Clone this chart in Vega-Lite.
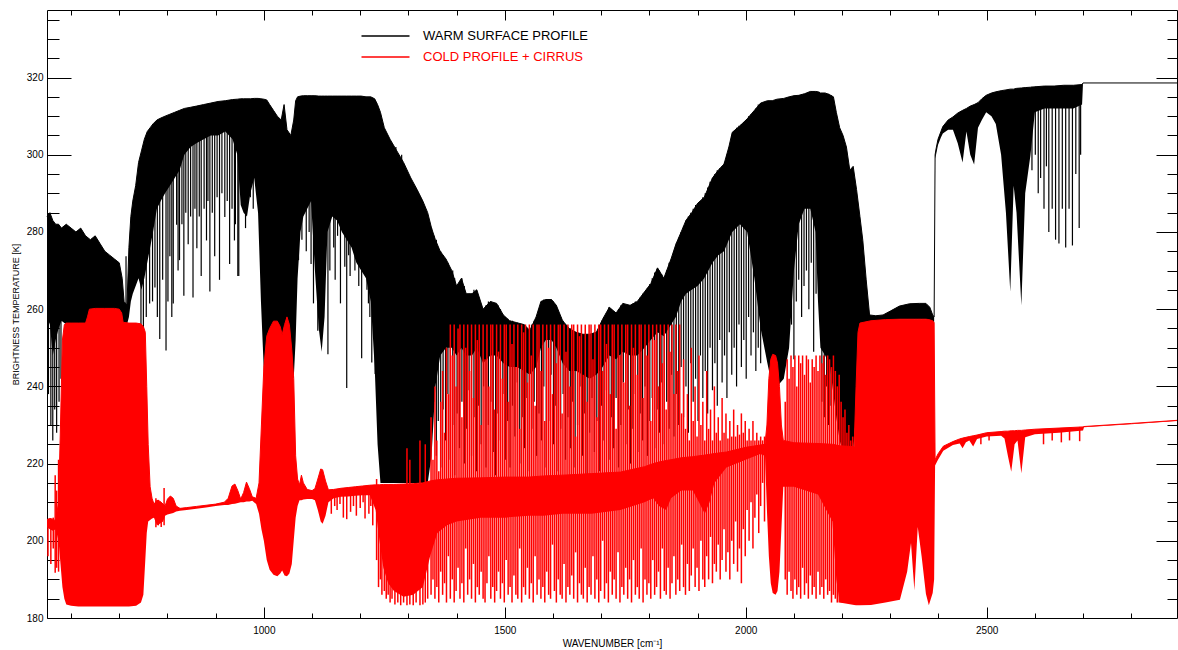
{
"$schema":"https://vega.github.io/schema/vega-lite/v6.json",
"width":1130,"height":608,
"autosize":{"type":"none"},
"padding":{"left":47,"top":10,"right":1,"bottom":32},
"background":"white",
"config":{"view":{"stroke":null},"axis":{"grid":false,"domainColor":"#000","tickColor":"#000","labelColor":"#000","titleColor":"#000","labelFont":"Liberation Sans","titleFont":"Liberation Sans","titleFontWeight":"normal","labelFontSize":10,"domainWidth":1,"tickWidth":1,"labelOverlap":false,"labelFlush":false}},
"datasets":{
"we":[{"x":550,"hi":284,"lo":258},{"x":556,"hi":285,"lo":256},{"x":562,"hi":283,"lo":248},{"x":568,"hi":282,"lo":252},{"x":574,"hi":282,"lo":255},{"x":580,"hi":281,"lo":257},{"x":590,"hi":282,"lo":256},{"x":600,"hi":281,"lo":256},{"x":610,"hi":280,"lo":256},{"x":620,"hi":281,"lo":256},{"x":630,"hi":279,"lo":256},{"x":640,"hi":278,"lo":256},{"x":650,"hi":279,"lo":256},{"x":660,"hi":277,"lo":256},{"x":670,"hi":275,"lo":256},{"x":680,"hi":274,"lo":256},{"x":690,"hi":273,"lo":256},{"x":700,"hi":272,"lo":256},{"x":706,"hi":268,"lo":256},{"x":710,"hi":262,"lo":256},{"x":716,"hi":261,"lo":256},{"x":720,"hi":276,"lo":258},{"x":724,"hi":284,"lo":262},{"x":728,"hi":288,"lo":264},{"x":734,"hi":292,"lo":266},{"x":740,"hi":298,"lo":268},{"x":746,"hi":301,"lo":265},{"x":752,"hi":304,"lo":268},{"x":758,"hi":306,"lo":272},{"x":764,"hi":307,"lo":276},{"x":770,"hi":308,"lo":280},{"x":778,"hi":309,"lo":286},{"x":786,"hi":309.5,"lo":288},{"x":795,"hi":310,"lo":290},{"x":805,"hi":310.5,"lo":292},{"x":815,"hi":311,"lo":294},{"x":825,"hi":311.5,"lo":296},{"x":835,"hi":312,"lo":300},{"x":848,"hi":312.3,"lo":302},{"x":860,"hi":312.6,"lo":303},{"x":875,"hi":313,"lo":304},{"x":890,"hi":313.4,"lo":305},{"x":905,"hi":313.8,"lo":305},{"x":920,"hi":314,"lo":306},{"x":935,"hi":314.3,"lo":304},{"x":945,"hi":314.4,"lo":300},{"x":952,"hi":314.5,"lo":287},{"x":958,"hi":314.5,"lo":285},{"x":965,"hi":314.5,"lo":284},{"x":972,"hi":314.5,"lo":290},{"x":980,"hi":314.6,"lo":294},{"x":988,"hi":314.6,"lo":285},{"x":994,"hi":314.5,"lo":262},{"x":1000,"hi":314.4,"lo":244},{"x":1006,"hi":314.2,"lo":241},{"x":1012,"hi":313,"lo":242},{"x":1020,"hi":311.5,"lo":244},{"x":1028,"hi":310,"lo":245},{"x":1036,"hi":309,"lo":246},{"x":1042,"hi":313,"lo":247},{"x":1048,"hi":306.5,"lo":247},{"x":1056,"hi":305,"lo":244},{"x":1062,"hi":309,"lo":242},{"x":1066,"hi":314,"lo":252},{"x":1070,"hi":315,"lo":268},{"x":1076,"hi":315.2,"lo":280},{"x":1082,"hi":315.3,"lo":284},{"x":1090,"hi":315.3,"lo":286},{"x":1098,"hi":315.3,"lo":288},{"x":1106,"hi":315.3,"lo":270},{"x":1114,"hi":315.2,"lo":255},{"x":1120,"hi":315.2,"lo":249},{"x":1126,"hi":315.2,"lo":258},{"x":1132,"hi":315.2,"lo":280},{"x":1142,"hi":315.2,"lo":284},{"x":1152,"hi":315.2,"lo":283},{"x":1162,"hi":315.2,"lo":280},{"x":1172,"hi":315.2,"lo":278},{"x":1182,"hi":315.2,"lo":276},{"x":1192,"hi":315.2,"lo":272},{"x":1202,"hi":315.2,"lo":270},{"x":1212,"hi":315,"lo":268},{"x":1222,"hi":315,"lo":262},{"x":1230,"hi":314.5,"lo":245},{"x":1236,"hi":313,"lo":225},{"x":1242,"hi":311,"lo":215},{"x":1250,"hi":307,"lo":215},{"x":1262,"hi":304,"lo":215},{"x":1276,"hi":301,"lo":215},{"x":1290,"hi":298,"lo":215},{"x":1305,"hi":294,"lo":215},{"x":1318,"hi":291,"lo":215},{"x":1330,"hi":288,"lo":215},{"x":1340,"hi":285,"lo":215},{"x":1348,"hi":281,"lo":222},{"x":1356,"hi":278,"lo":240},{"x":1366,"hi":275,"lo":248},{"x":1378,"hi":273,"lo":250},{"x":1390,"hi":270,"lo":250},{"x":1400,"hi":266,"lo":248},{"x":1410,"hi":268,"lo":250},{"x":1420,"hi":264,"lo":248},{"x":1432,"hi":264,"lo":248},{"x":1442,"hi":265,"lo":250},{"x":1455,"hi":260,"lo":246},{"x":1470,"hi":262,"lo":248},{"x":1483,"hi":261.5,"lo":248},{"x":1497,"hi":258.5,"lo":246},{"x":1510,"hi":257,"lo":245},{"x":1525,"hi":256.5,"lo":245},{"x":1540,"hi":256,"lo":244},{"x":1552,"hi":254.5,"lo":243},{"x":1565,"hi":258,"lo":245},{"x":1575,"hi":262,"lo":250},{"x":1585,"hi":262.5,"lo":252},{"x":1597,"hi":262.5,"lo":252},{"x":1607,"hi":261,"lo":250},{"x":1620,"hi":257,"lo":246},{"x":1634,"hi":255,"lo":244},{"x":1648,"hi":254,"lo":244},{"x":1662,"hi":253.5,"lo":243},{"x":1676,"hi":253.5,"lo":242},{"x":1690,"hi":254,"lo":243},{"x":1703,"hi":257.4,"lo":245},{"x":1717,"hi":260.5,"lo":248},{"x":1731,"hi":259,"lo":247},{"x":1745,"hi":261.5,"lo":249},{"x":1760,"hi":261,"lo":248},{"x":1775,"hi":262,"lo":248},{"x":1790,"hi":264.5,"lo":250},{"x":1803,"hi":266.6,"lo":252},{"x":1817,"hi":270.7,"lo":254},{"x":1830,"hi":268,"lo":253},{"x":1845,"hi":273,"lo":256},{"x":1855,"hi":276.8,"lo":258},{"x":1866,"hi":280,"lo":262},{"x":1876,"hi":283,"lo":264},{"x":1888,"hi":285,"lo":265},{"x":1900,"hi":287.4,"lo":266},{"x":1914,"hi":289,"lo":268},{"x":1931,"hi":294,"lo":272},{"x":1943,"hi":296,"lo":274},{"x":1955,"hi":297.6,"lo":275},{"x":1965,"hi":302,"lo":278},{"x":1972,"hi":305.8,"lo":280},{"x":1988,"hi":307.5,"lo":282},{"x":2003,"hi":309.3,"lo":280},{"x":2018,"hi":311.5,"lo":268},{"x":2031,"hi":313.4,"lo":255},{"x":2045,"hi":314,"lo":246},{"x":2055,"hi":314,"lo":240},{"x":2065,"hi":314.4,"lo":240},{"x":2079,"hi":314.6,"lo":242},{"x":2090,"hi":315,"lo":250},{"x":2100,"hi":315.3,"lo":270},{"x":2110,"hi":315.4,"lo":282},{"x":2122,"hi":315.8,"lo":286},{"x":2134,"hi":316.4,"lo":286},{"x":2145,"hi":316.4,"lo":280},{"x":2150,"hi":316.3,"lo":262},{"x":2155,"hi":316,"lo":250},{"x":2165,"hi":316,"lo":248},{"x":2175,"hi":315.5,"lo":245},{"x":2182,"hi":315,"lo":238},{"x":2188,"hi":311,"lo":232},{"x":2195,"hi":307,"lo":226},{"x":2202,"hi":305,"lo":223},{"x":2209,"hi":302,"lo":222},{"x":2216,"hi":296,"lo":221.5},{"x":2223,"hi":297,"lo":223},{"x":2230,"hi":291,"lo":235},{"x":2237,"hi":284,"lo":248},{"x":2243,"hi":277.8,"lo":252},{"x":2250,"hi":267.6,"lo":256},{"x":2257,"hi":258.5,"lo":256.5},{"x":2270,"hi":258.3,"lo":256.6},{"x":2285,"hi":258.5,"lo":257},{"x":2300,"hi":259.5,"lo":257.2},{"x":2319,"hi":260.8,"lo":257.4},{"x":2340,"hi":261.4,"lo":257.4},{"x":2360,"hi":261.5,"lo":257.4},{"x":2374,"hi":261.5,"lo":257.4},{"x":2382,"hi":260.5,"lo":257.2},{"x":2388,"hi":258.5,"lo":256.6},{"x":2391,"hi":258,"lo":256.5},{"x":2393,"hi":300,"lo":299},{"x":2395,"hi":301.5,"lo":300},{"x":2399,"hi":304,"lo":302.5},{"x":2405,"hi":306,"lo":304.5},{"x":2409,"hi":307.3,"lo":305.5},{"x":2420,"hi":309,"lo":306.5},{"x":2430,"hi":309.8,"lo":306.5},{"x":2440,"hi":310.8,"lo":303},{"x":2450,"hi":311.5,"lo":298},{"x":2458,"hi":312,"lo":306},{"x":2466,"hi":312.6,"lo":300},{"x":2474,"hi":313,"lo":297.5},{"x":2482,"hi":313.5,"lo":307},{"x":2490,"hi":314.5,"lo":309},{"x":2499,"hi":315.4,"lo":311},{"x":2510,"hi":316,"lo":310},{"x":2519,"hi":316.3,"lo":308},{"x":2530,"hi":316.6,"lo":300},{"x":2540,"hi":316.8,"lo":285},{"x":2549,"hi":317,"lo":264.5},{"x":2556,"hi":317,"lo":292},{"x":2562,"hi":317.2,"lo":285},{"x":2572,"hi":317.3,"lo":261},{"x":2580,"hi":317.4,"lo":290},{"x":2591,"hi":317.5,"lo":300},{"x":2600,"hi":317.6,"lo":311},{"x":2620,"hi":317.8,"lo":312},{"x":2640,"hi":317.8,"lo":312},{"x":2660,"hi":318,"lo":312},{"x":2680,"hi":318,"lo":312},{"x":2698,"hi":318.2,"lo":313},{"x":2700,"hi":318.6,"lo":318.6},{"x":2895,"hi":318.6,"lo":318.6}],
"ws":[{"x":553,"t":272,"b":238},{"x":558,"t":270,"b":230},{"x":562,"t":262,"b":226},{"x":566,"t":268,"b":234},{"x":570,"t":265,"b":228},{"x":575,"t":266,"b":236},{"x":579,"t":262,"b":242},{"x":714,"t":273.7,"b":258},{"x":745,"t":290,"b":251},{"x":750,"t":295,"b":252},{"x":756,"t":300,"b":258},{"x":763,"t":300,"b":261.5},{"x":769,"t":303,"b":262},{"x":774,"t":305,"b":265.6},{"x":779,"t":305,"b":258},{"x":784,"t":305,"b":252.3},{"x":790,"t":306,"b":267.6},{"x":797,"t":306,"b":249.3},{"x":801,"t":306,"b":262},{"x":805,"t":307,"b":273.7},{"x":809,"t":307,"b":258},{"x":812,"t":307,"b":261.5},{"x":819,"t":308,"b":281.9},{"x":822,"t":308,"b":270},{"x":825,"t":308,"b":272.7},{"x":830,"t":309,"b":282},{"x":834,"t":309,"b":263.5},{"x":838,"t":309,"b":285},{"x":843,"t":309,"b":276.8},{"x":848,"t":310,"b":284},{"x":853,"t":310,"b":263},{"x":857,"t":310,"b":286},{"x":861,"t":310,"b":275.8},{"x":866,"t":311,"b":284},{"x":870,"t":311,"b":268.6},{"x":876,"t":311,"b":286},{"x":881,"t":311,"b":277.8},{"x":884,"t":311,"b":288},{"x":888,"t":312,"b":264.6},{"x":893,"t":312,"b":285},{"x":898,"t":312,"b":273.7},{"x":903,"t":312,"b":289},{"x":908,"t":312,"b":267.6},{"x":913,"t":312,"b":290},{"x":919,"t":312,"b":283.9},{"x":924,"t":313,"b":288},{"x":929,"t":313,"b":271.7},{"x":934,"t":313,"b":286},{"x":939,"t":313,"b":277.8},{"x":941,"t":313,"b":282},{"x":946,"t":313,"b":268.6},{"x":948,"t":313,"b":268.6},{"x":962,"t":313,"b":281},{"x":972,"t":313,"b":289},{"x":978,"t":313,"b":286},{"x":1072,"t":314,"b":272.7},{"x":1079,"t":314,"b":278},{"x":1083,"t":314,"b":286},{"x":1088,"t":314,"b":275},{"x":1094,"t":314,"b":280},{"x":1098,"t":314,"b":271.7},{"x":1103,"t":314,"b":261.5},{"x":1112,"t":314,"b":254.4},{"x":1133,"t":314,"b":248.3},{"x":1137,"t":314,"b":270},{"x":1141,"t":314,"b":288},{"x":1145,"t":314,"b":276},{"x":1148,"t":314,"b":267.6},{"x":1153,"t":314,"b":279},{"x":1159,"t":314,"b":261.5},{"x":1164,"t":314,"b":281.9},{"x":1168,"t":314,"b":271},{"x":1172,"t":314,"b":239.6},{"x":1176,"t":314,"b":274},{"x":1179,"t":314,"b":268.6},{"x":1185,"t":314,"b":283},{"x":1189,"t":314,"b":270},{"x":1193,"t":314,"b":277.8},{"x":1197,"t":314,"b":266},{"x":1203,"t":314,"b":247.3},{"x":1207,"t":314,"b":272},{"x":1210,"t":314,"b":279},{"x":1214,"t":314,"b":265},{"x":1217,"t":314,"b":261.5},{"x":1220,"t":314,"b":258},{"x":1224,"t":314,"b":246.2},{"x":1228,"t":314,"b":255},{"x":1231,"t":314,"b":243.2},{"x":1274,"t":302,"b":290},{"x":1286,"t":300,"b":288},{"x":1348,"t":281,"b":228},{"x":1353,"t":279,"b":236},{"x":1358,"t":278,"b":222},{"x":1362,"t":276,"b":231},{"x":1367,"t":275,"b":219},{"x":1372,"t":274,"b":234},{"x":1377,"t":273,"b":226},{"x":1382,"t":272,"b":238},{"x":1387,"t":270,"b":221},{"x":1392,"t":270,"b":230},{"x":1396,"t":268,"b":217},{"x":1401,"t":266,"b":233},{"x":1406,"t":267,"b":224},{"x":1411,"t":268,"b":236},{"x":1416,"t":266,"b":220},{"x":1421,"t":264,"b":229},{"x":1426,"t":264,"b":239},{"x":1431,"t":264,"b":222},{"x":1436,"t":265,"b":232},{"x":1441,"t":265,"b":218},{"x":1446,"t":263,"b":235},{"x":1451,"t":261,"b":225},{"x":1456,"t":260,"b":240},{"x":1461,"t":261,"b":219},{"x":1466,"t":262,"b":230},{"x":1471,"t":262,"b":236},{"x":1476,"t":261,"b":223},{"x":1481,"t":261.5,"b":217},{"x":1486,"t":261,"b":233},{"x":1491,"t":260,"b":226},{"x":1496,"t":258.5,"b":238},{"x":1501,"t":258,"b":221},{"x":1506,"t":257.5,"b":231},{"x":1511,"t":257,"b":219},{"x":1516,"t":257,"b":235},{"x":1521,"t":256.5,"b":227},{"x":1526,"t":256.5,"b":241},{"x":1531,"t":256,"b":220},{"x":1536,"t":256,"b":232},{"x":1541,"t":256,"b":224},{"x":1546,"t":255,"b":237},{"x":1551,"t":254.5,"b":218},{"x":1556,"t":256,"b":229},{"x":1561,"t":257,"b":236},{"x":1566,"t":258,"b":222},{"x":1571,"t":260,"b":233},{"x":1576,"t":262,"b":226},{"x":1581,"t":262.5,"b":240},{"x":1586,"t":262.5,"b":219},{"x":1591,"t":262.5,"b":231},{"x":1596,"t":262.5,"b":243},{"x":1601,"t":262,"b":225},{"x":1606,"t":261,"b":235},{"x":1611,"t":259,"b":218},{"x":1616,"t":258,"b":229},{"x":1621,"t":257,"b":238},{"x":1626,"t":256,"b":221},{"x":1631,"t":255,"b":232},{"x":1636,"t":255,"b":224},{"x":1641,"t":254.5,"b":236},{"x":1646,"t":254,"b":219},{"x":1651,"t":254,"b":230},{"x":1656,"t":253.5,"b":240},{"x":1661,"t":253.5,"b":222},{"x":1666,"t":253.5,"b":233},{"x":1671,"t":253.5,"b":217},{"x":1676,"t":253.5,"b":228},{"x":1681,"t":253.5,"b":237},{"x":1686,"t":254,"b":223},{"x":1691,"t":254,"b":231},{"x":1696,"t":255.5,"b":218},{"x":1701,"t":257,"b":235},{"x":1706,"t":258,"b":226},{"x":1711,"t":259,"b":239},{"x":1716,"t":260.5,"b":221},{"x":1721,"t":260,"b":232},{"x":1726,"t":259.5,"b":224},{"x":1731,"t":259,"b":237},{"x":1736,"t":260,"b":219},{"x":1741,"t":261,"b":230},{"x":1746,"t":261.5,"b":241},{"x":1751,"t":261,"b":225},{"x":1756,"t":261,"b":234},{"x":1761,"t":261,"b":220},{"x":1766,"t":261.5,"b":229},{"x":1771,"t":262,"b":238},{"x":1776,"t":262,"b":223},{"x":1781,"t":263,"b":233},{"x":1786,"t":264,"b":226},{"x":1791,"t":264.5,"b":240},{"x":1796,"t":265.5,"b":222},{"x":1801,"t":266.5,"b":231},{"x":1806,"t":268,"b":237},{"x":1811,"t":269.5,"b":224},{"x":1816,"t":270.5,"b":234},{"x":1821,"t":270,"b":228},{"x":1826,"t":269,"b":241},{"x":1831,"t":268,"b":225},{"x":1836,"t":270,"b":236},{"x":1841,"t":272,"b":229},{"x":1846,"t":273,"b":243},{"x":1851,"t":275,"b":227},{"x":1856,"t":277,"b":238},{"x":1861,"t":278.5,"b":230},{"x":1866,"t":280,"b":245},{"x":1871,"t":281.5,"b":232},{"x":1876,"t":283,"b":240},{"x":1881,"t":284,"b":228},{"x":1886,"t":285,"b":246},{"x":1891,"t":286,"b":236},{"x":1896,"t":287,"b":242},{"x":1901,"t":287.5,"b":231},{"x":1906,"t":288,"b":248},{"x":1911,"t":289,"b":237},{"x":1916,"t":290,"b":244},{"x":1921,"t":291.5,"b":233},{"x":1926,"t":293,"b":250},{"x":1931,"t":294,"b":239},{"x":1936,"t":295,"b":246},{"x":1941,"t":296,"b":235},{"x":1946,"t":296.5,"b":252},{"x":1951,"t":297,"b":241},{"x":1956,"t":298,"b":248},{"x":1961,"t":300,"b":237},{"x":1966,"t":302,"b":254},{"x":1971,"t":305,"b":243},{"x":1976,"t":306,"b":250},{"x":1981,"t":307,"b":240},{"x":1986,"t":307.5,"b":256},{"x":1991,"t":308,"b":245},{"x":1996,"t":308.5,"b":252},{"x":2001,"t":309,"b":242},{"x":2006,"t":310,"b":258},{"x":2011,"t":310.5,"b":248},{"x":2016,"t":311,"b":254},{"x":2021,"t":312,"b":244},{"x":2026,"t":313,"b":250},{"x":2031,"t":313.4,"b":246},{"x":2095,"t":315,"b":256},{"x":2100,"t":315.3,"b":247},{"x":2105,"t":315.3,"b":262},{"x":2110,"t":315.4,"b":267.6},{"x":2116,"t":315.6,"b":258},{"x":2121,"t":315.8,"b":266},{"x":2126,"t":316,"b":270},{"x":2131,"t":316.2,"b":260},{"x":2136,"t":316.4,"b":272},{"x":2141,"t":316.4,"b":249},{"x":2146,"t":316.4,"b":264},{"x":2152,"t":316.3,"b":270},{"x":2158,"t":316,"b":236},{"x":2163,"t":316,"b":232},{"x":2168,"t":316,"b":240},{"x":2172,"t":315.8,"b":230},{"x":2177,"t":315.5,"b":235},{"x":2594,"t":317.6,"b":296},{"x":2601,"t":317.6,"b":300},{"x":2607,"t":317.6,"b":290},{"x":2612,"t":317.6,"b":294},{"x":2619,"t":317.6,"b":286},{"x":2624,"t":317.6,"b":297},{"x":2629,"t":317.6,"b":280},{"x":2636,"t":317.6,"b":286},{"x":2643,"t":317.6,"b":278},{"x":2650,"t":317.6,"b":277},{"x":2657,"t":317.6,"b":286},{"x":2664,"t":317.6,"b":276},{"x":2671,"t":317.6,"b":286},{"x":2678,"t":317.6,"b":276.5},{"x":2685,"t":317.6,"b":295},{"x":2692,"t":317.6,"b":281},{"x":2695,"t":317.6,"b":300}],
"ce":[{"x":550,"hi":205.5,"lo":203.5},{"x":556,"hi":205.8,"lo":203},{"x":562,"hi":205.6,"lo":202.6},{"x":568,"hi":205.2,"lo":203},{"x":574,"hi":210,"lo":200},{"x":578,"hi":230,"lo":194},{"x":582,"hi":252,"lo":188},{"x":586,"hi":256,"lo":185},{"x":590,"hi":256.4,"lo":183.5},{"x":600,"hi":256.4,"lo":183.2},{"x":615,"hi":256.4,"lo":183},{"x":630,"hi":256.4,"lo":183},{"x":634,"hi":258,"lo":183},{"x":638,"hi":260,"lo":183},{"x":650,"hi":260.2,"lo":183},{"x":670,"hi":260.2,"lo":183},{"x":690,"hi":260.2,"lo":183},{"x":700,"hi":260,"lo":183},{"x":705,"hi":259,"lo":183},{"x":708,"hi":256.6,"lo":183},{"x":720,"hi":256.4,"lo":183},{"x":735,"hi":256.4,"lo":183.2},{"x":745,"hi":256.2,"lo":184},{"x":750,"hi":255.5,"lo":186},{"x":754,"hi":254,"lo":195},{"x":757,"hi":240,"lo":202},{"x":760,"hi":225,"lo":205},{"x":764,"hi":214,"lo":205.4},{"x":768,"hi":211,"lo":205.8},{"x":772,"hi":209.5,"lo":206},{"x":778,"hi":210.5,"lo":204},{"x":785,"hi":210.2,"lo":204.5},{"x":791,"hi":209.5,"lo":205},{"x":795,"hi":209,"lo":206.5},{"x":800,"hi":210.8,"lo":206.8},{"x":806,"hi":211.6,"lo":207},{"x":812,"hi":211,"lo":207.2},{"x":818,"hi":209,"lo":207.6},{"x":826,"hi":208.4,"lo":207.8},{"x":840,"hi":208.6,"lo":208},{"x":860,"hi":208.9,"lo":208.3},{"x":880,"hi":209.2,"lo":208.6},{"x":900,"hi":209.5,"lo":209},{"x":918,"hi":210,"lo":209.3},{"x":926,"hi":211,"lo":209.3},{"x":934,"hi":214.2,"lo":209.5},{"x":940,"hi":214.7,"lo":209.6},{"x":946,"hi":213,"lo":209.8},{"x":952,"hi":210.8,"lo":210},{"x":958,"hi":212.5,"lo":210},{"x":964,"hi":215.2,"lo":210.2},{"x":970,"hi":213.5,"lo":210.2},{"x":976,"hi":211.4,"lo":210.4},{"x":984,"hi":211,"lo":209.5},{"x":990,"hi":215,"lo":207},{"x":995,"hi":230,"lo":203},{"x":1000,"hi":245,"lo":200},{"x":1006,"hi":253,"lo":195},{"x":1012,"hi":255,"lo":192.5},{"x":1020,"hi":256.9,"lo":191.2},{"x":1028,"hi":256.9,"lo":190.8},{"x":1034,"hi":255.5,"lo":191.5},{"x":1038,"hi":253.4,"lo":192.3},{"x":1043,"hi":256,"lo":191},{"x":1048,"hi":258,"lo":190.8},{"x":1053,"hi":256,"lo":191.5},{"x":1058,"hi":249.5,"lo":194},{"x":1062,"hi":242,"lo":200},{"x":1066,"hi":222,"lo":206},{"x":1070,"hi":216,"lo":209},{"x":1074,"hi":214.5,"lo":210.5},{"x":1078,"hi":217,"lo":210.5},{"x":1082,"hi":215,"lo":210.7},{"x":1090,"hi":213.3,"lo":210.8},{"x":1100,"hi":213,"lo":210.8},{"x":1106,"hi":213.5,"lo":210.5},{"x":1112,"hi":216,"lo":208},{"x":1118,"hi":218.6,"lo":205},{"x":1122,"hi":218.4,"lo":204.4},{"x":1128,"hi":215.5,"lo":206.5},{"x":1134,"hi":213.2,"lo":210},{"x":1145,"hi":213.3,"lo":211},{"x":1160,"hi":213.6,"lo":211.4},{"x":1175,"hi":213.8,"lo":211.5},{"x":1190,"hi":214,"lo":211.7},{"x":1205,"hi":214.2,"lo":211.8},{"x":1220,"hi":214.4,"lo":211.8},{"x":1232,"hi":214.5,"lo":208},{"x":1240,"hi":214.5,"lo":200},{"x":1248,"hi":214.6,"lo":193},{"x":1258,"hi":214.6,"lo":189},{"x":1270,"hi":214.6,"lo":187},{"x":1290,"hi":214.7,"lo":185.5},{"x":1310,"hi":214.8,"lo":186},{"x":1330,"hi":215,"lo":188},{"x":1345,"hi":215.5,"lo":196},{"x":1360,"hi":215.8,"lo":202},{"x":1380,"hi":216,"lo":204},{"x":1400,"hi":216.2,"lo":205},{"x":1450,"hi":216.3,"lo":206},{"x":1500,"hi":216.5,"lo":206},{"x":1550,"hi":216.5,"lo":206.5},{"x":1580,"hi":216.8,"lo":206.5},{"x":1620,"hi":217,"lo":207},{"x":1680,"hi":217.4,"lo":207},{"x":1740,"hi":217.8,"lo":208},{"x":1790,"hi":219.2,"lo":210},{"x":1808,"hi":220,"lo":211},{"x":1820,"hi":220.4,"lo":209},{"x":1835,"hi":220.8,"lo":208},{"x":1845,"hi":221,"lo":211},{"x":1866,"hi":221.5,"lo":213},{"x":1890,"hi":221.8,"lo":213},{"x":1903,"hi":222,"lo":210},{"x":1915,"hi":222.2,"lo":207},{"x":1925,"hi":222.4,"lo":210},{"x":1935,"hi":222.6,"lo":215},{"x":1960,"hi":223,"lo":219},{"x":2000,"hi":224.2,"lo":221},{"x":2030,"hi":224.8,"lo":222.5},{"x":2040,"hi":225,"lo":222},{"x":2044,"hi":230,"lo":208},{"x":2048,"hi":242,"lo":196},{"x":2052,"hi":247,"lo":189},{"x":2056,"hi":248.3,"lo":186.5},{"x":2062,"hi":248,"lo":186},{"x":2066,"hi":246,"lo":187},{"x":2070,"hi":240,"lo":192},{"x":2074,"hi":230,"lo":203},{"x":2078,"hi":226,"lo":214},{"x":2100,"hi":225.4,"lo":214},{"x":2150,"hi":225.2,"lo":212},{"x":2180,"hi":225,"lo":205},{"x":2188,"hi":224.8,"lo":190},{"x":2195,"hi":224.6,"lo":184},{"x":2225,"hi":224.4,"lo":183.4},{"x":2229,"hi":240,"lo":183.3},{"x":2233,"hi":254,"lo":183.3},{"x":2237,"hi":256.4,"lo":183.3},{"x":2260,"hi":257,"lo":183.4},{"x":2290,"hi":257.3,"lo":184},{"x":2320,"hi":257.4,"lo":184.7},{"x":2335,"hi":257.4,"lo":192},{"x":2343,"hi":257.4,"lo":199.4},{"x":2350,"hi":257.4,"lo":187.2},{"x":2357,"hi":257.4,"lo":203.6},{"x":2365,"hi":257.4,"lo":196},{"x":2374,"hi":257.4,"lo":186.2},{"x":2380,"hi":257.3,"lo":183.3},{"x":2388,"hi":257,"lo":186.5},{"x":2391,"hi":256.5,"lo":190},{"x":2393,"hi":221,"lo":219.5},{"x":2399,"hi":222.5,"lo":221},{"x":2410,"hi":224.5,"lo":223.3},{"x":2430,"hi":225.7,"lo":224.8},{"x":2444,"hi":226.4,"lo":225.2},{"x":2450,"hi":226.6,"lo":224},{"x":2457,"hi":226.8,"lo":225.5},{"x":2464,"hi":227,"lo":226},{"x":2472,"hi":227.2,"lo":224.4},{"x":2480,"hi":227.4,"lo":226.4},{"x":2500,"hi":228,"lo":227},{"x":2530,"hi":228.3,"lo":227.2},{"x":2537,"hi":228.4,"lo":226.5},{"x":2544,"hi":228.4,"lo":222},{"x":2551,"hi":228.5,"lo":217.9},{"x":2558,"hi":228.5,"lo":225},{"x":2564,"hi":228.6,"lo":226},{"x":2572,"hi":228.6,"lo":217.5},{"x":2580,"hi":228.7,"lo":226.8},{"x":2600,"hi":228.9,"lo":227.6},{"x":2650,"hi":229.2,"lo":228},{"x":2700,"hi":229.5,"lo":228.6},{"x":2702,"hi":229.6,"lo":229.4},{"x":2800,"hi":230.4,"lo":230.2},{"x":2895,"hi":231.2,"lo":231}],
"cs":[{"x":552,"t":205.5,"b":196},{"x":558,"t":205,"b":194},{"x":563,"t":206,"b":198},{"x":567,"t":217,"b":191.7},{"x":570,"t":213,"b":193},{"x":574,"t":221,"b":192},{"x":776,"t":211,"b":203.5},{"x":781,"t":210.6,"b":204},{"x":787,"t":209.5,"b":203.6},{"x":793,"t":213.7,"b":204},{"x":1140,"t":213.2,"b":207},{"x":1147,"t":213.3,"b":209},{"x":1152,"t":213.4,"b":208},{"x":1158,"t":213.5,"b":209.5},{"x":1165,"t":213.6,"b":206},{"x":1172,"t":213.7,"b":205.6},{"x":1180,"t":213.8,"b":207.5},{"x":1186,"t":213.9,"b":209},{"x":1192,"t":214,"b":206.5},{"x":1200,"t":214.1,"b":208.5},{"x":1206,"t":214.2,"b":210},{"x":1210,"t":214.2,"b":205.8},{"x":1218,"t":214.3,"b":207},{"x":1222,"t":214.4,"b":209},{"x":1226,"t":214.4,"b":204},{"x":1234,"t":216,"b":195},{"x":1238,"t":214.5,"b":188},{"x":1242,"t":214.5,"b":190},{"x":1245,"t":214.5,"b":186},{"x":1250,"t":214.6,"b":187},{"x":1254,"t":214.6,"b":185},{"x":1258,"t":214.6,"b":186},{"x":1262,"t":214.6,"b":184},{"x":1266,"t":214.6,"b":185},{"x":1272,"t":214.6,"b":183.5},{"x":1278,"t":214.6,"b":184},{"x":1284,"t":214.7,"b":183.3},{"x":1290,"t":214.7,"b":184},{"x":1297,"t":224,"b":183.3},{"x":1303,"t":221,"b":183.5},{"x":1310,"t":214.8,"b":183.3},{"x":1316,"t":214.9,"b":184},{"x":1324,"t":226,"b":183.3},{"x":1330,"t":215,"b":183.5},{"x":1335,"t":225,"b":184},{"x":1340,"t":215.3,"b":185},{"x":1347,"t":232,"b":186},{"x":1351,"t":221,"b":190},{"x":1355,"t":240,"b":185},{"x":1359,"t":226,"b":188},{"x":1363,"t":218,"b":184},{"x":1367,"t":236,"b":192},{"x":1371,"t":244,"b":186},{"x":1375,"t":228,"b":189},{"x":1379,"t":250,"b":184},{"x":1383,"t":238,"b":196},{"x":1387,"t":256,"b":185},{"x":1391,"t":248,"b":190},{"x":1395,"t":256,"b":184},{"x":1399,"t":240,"b":187},{"x":1403,"t":255,"b":193},{"x":1407,"t":256,"b":185},{"x":1411,"t":232,"b":189},{"x":1415,"t":256,"b":184},{"x":1419,"t":250,"b":198},{"x":1423,"t":256,"b":186},{"x":1427,"t":244,"b":190},{"x":1431,"t":256,"b":185},{"x":1435,"t":237,"b":194},{"x":1439,"t":256,"b":184},{"x":1443,"t":252,"b":188},{"x":1447,"t":256,"b":186},{"x":1451,"t":230,"b":192},{"x":1455,"t":256,"b":185},{"x":1459,"t":247,"b":184},{"x":1463,"t":256,"b":189},{"x":1467,"t":240,"b":196},{"x":1471,"t":256,"b":185},{"x":1475,"t":256,"b":188},{"x":1479,"t":234,"b":184},{"x":1483,"t":256,"b":187},{"x":1487,"t":249,"b":192},{"x":1491,"t":256,"b":185},{"x":1495,"t":242,"b":189},{"x":1499,"t":256,"b":184},{"x":1503,"t":256,"b":195},{"x":1507,"t":236,"b":186},{"x":1511,"t":256,"b":188},{"x":1515,"t":251,"b":184},{"x":1519,"t":256,"b":191},{"x":1523,"t":245,"b":186},{"x":1527,"t":256,"b":185},{"x":1531,"t":229,"b":198},{"x":1535,"t":256,"b":184},{"x":1539,"t":254,"b":188},{"x":1543,"t":256,"b":186},{"x":1547,"t":241,"b":193},{"x":1551,"t":256,"b":185},{"x":1555,"t":248,"b":189},{"x":1559,"t":256,"b":184},{"x":1563,"t":235,"b":196},{"x":1567,"t":256,"b":186},{"x":1571,"t":256,"b":190},{"x":1575,"t":244,"b":185},{"x":1579,"t":256,"b":188},{"x":1583,"t":231,"b":184},{"x":1587,"t":256,"b":192},{"x":1591,"t":250,"b":186},{"x":1595,"t":256,"b":185},{"x":1599,"t":238,"b":199},{"x":1603,"t":256,"b":187},{"x":1607,"t":246,"b":184},{"x":1611,"t":256,"b":190},{"x":1615,"t":256,"b":186},{"x":1619,"t":233,"b":185},{"x":1623,"t":256,"b":194},{"x":1627,"t":249,"b":184},{"x":1631,"t":256,"b":188},{"x":1635,"t":240,"b":186},{"x":1639,"t":256,"b":191},{"x":1643,"t":256,"b":185},{"x":1647,"t":227,"b":197},{"x":1651,"t":256,"b":184},{"x":1655,"t":253,"b":189},{"x":1659,"t":256,"b":186},{"x":1663,"t":243,"b":185},{"x":1667,"t":256,"b":193},{"x":1671,"t":236,"b":184},{"x":1675,"t":256,"b":188},{"x":1679,"t":256,"b":186},{"x":1683,"t":247,"b":196},{"x":1687,"t":256,"b":185},{"x":1691,"t":232,"b":190},{"x":1695,"t":256,"b":184},{"x":1699,"t":256,"b":187},{"x":1703,"t":244,"b":200},{"x":1707,"t":256,"b":185},{"x":1711,"t":251,"b":189},{"x":1715,"t":256,"b":184},{"x":1719,"t":238,"b":192},{"x":1723,"t":256,"b":186},{"x":1727,"t":256,"b":190},{"x":1731,"t":229,"b":185},{"x":1735,"t":256,"b":197},{"x":1739,"t":248,"b":184},{"x":1743,"t":256,"b":188},{"x":1747,"t":241,"b":186},{"x":1751,"t":256,"b":193},{"x":1755,"t":256,"b":185},{"x":1759,"t":235,"b":190},{"x":1763,"t":256,"b":184},{"x":1767,"t":250,"b":195},{"x":1771,"t":256,"b":186},{"x":1775,"t":243,"b":188},{"x":1779,"t":256,"b":185},{"x":1783,"t":256,"b":198},{"x":1787,"t":237,"b":184},{"x":1791,"t":256,"b":190},{"x":1795,"t":248,"b":186},{"x":1799,"t":256,"b":189},{"x":1803,"t":231,"b":185},{"x":1807,"t":256,"b":195},{"x":1811,"t":252,"b":186},{"x":1815,"t":256,"b":188},{"x":1819,"t":240,"b":192},{"x":1823,"t":256,"b":185},{"x":1827,"t":246,"b":198},{"x":1831,"t":256,"b":187},{"x":1835,"t":234,"b":186},{"x":1839,"t":256,"b":193},{"x":1843,"t":249,"b":185},{"x":1847,"t":256,"b":189},{"x":1851,"t":238,"b":196},{"x":1855,"t":256,"b":186},{"x":1859,"t":244,"b":190},{"x":1863,"t":256,"b":187},{"x":1867,"t":233,"b":199},{"x":1871,"t":247,"b":188},{"x":1875,"t":229,"b":186},{"x":1879,"t":238,"b":194},{"x":1883,"t":226,"b":187},{"x":1887,"t":250,"b":191},{"x":1891,"t":231,"b":198},{"x":1895,"t":240,"b":188},{"x":1899,"t":227,"b":193},{"x":1903,"t":248,"b":187},{"x":1907,"t":230,"b":200},{"x":1911,"t":236,"b":190},{"x":1915,"t":226,"b":188},{"x":1919,"t":244,"b":196},{"x":1923,"t":229,"b":190},{"x":1927,"t":234,"b":201},{"x":1931,"t":226,"b":189},{"x":1935,"t":240,"b":194},{"x":1939,"t":228,"b":192},{"x":1943,"t":232,"b":199},{"x":1947,"t":226,"b":190},{"x":1951,"t":237,"b":195},{"x":1955,"t":228,"b":203},{"x":1959,"t":233,"b":192},{"x":1963,"t":226.5,"b":197},{"x":1967,"t":231,"b":190},{"x":1971,"t":227,"b":200},{"x":1975,"t":234,"b":194},{"x":1979,"t":227,"b":205},{"x":1983,"t":230,"b":192},{"x":1987,"t":227.5,"b":198},{"x":1991,"t":233,"b":189},{"x":1995,"t":228,"b":203},{"x":1999,"t":231,"b":196},{"x":2003,"t":226,"b":208},{"x":2007,"t":229,"b":200},{"x":2011,"t":226,"b":210},{"x":2015,"t":231,"b":198},{"x":2019,"t":226,"b":206},{"x":2023,"t":228,"b":212},{"x":2027,"t":226,"b":202},{"x":2031,"t":227,"b":209},{"x":2035,"t":226,"b":215},{"x":2039,"t":227,"b":205},{"x":2082,"t":236,"b":190},{"x":2086,"t":247,"b":186},{"x":2090,"t":242,"b":192},{"x":2094,"t":248,"b":187},{"x":2098,"t":245,"b":185},{"x":2102,"t":248,"b":190},{"x":2106,"t":240,"b":186},{"x":2110,"t":248,"b":188},{"x":2114,"t":246,"b":185},{"x":2118,"t":248,"b":193},{"x":2122,"t":243,"b":186},{"x":2126,"t":248,"b":189},{"x":2130,"t":247,"b":185},{"x":2134,"t":241,"b":191},{"x":2138,"t":247,"b":186},{"x":2142,"t":245,"b":188},{"x":2146,"t":248,"b":185},{"x":2150,"t":244,"b":192},{"x":2154,"t":248,"b":186},{"x":2158,"t":246,"b":188},{"x":2162,"t":248,"b":185},{"x":2166,"t":243,"b":190},{"x":2170,"t":248,"b":186},{"x":2174,"t":247,"b":187},{"x":2178,"t":245,"b":184},{"x":2182,"t":248,"b":186},{"x":2186,"t":244,"b":185},{"x":2190,"t":240,"b":184},{"x":2194,"t":243,"b":184},{"x":2198,"t":236,"b":184},{"x":2202,"t":232,"b":184},{"x":2206,"t":234,"b":184},{"x":2210,"t":228,"b":184},{"x":2214,"t":230,"b":184},{"x":2218,"t":226,"b":184},{"x":2222,"t":227,"b":184},{"x":2488,"t":227.6,"b":225},{"x":2505,"t":228,"b":226},{"x":2618,"t":228.9,"b":225},{"x":2636,"t":229,"b":226},{"x":2655,"t":229.2,"b":225.5},{"x":2672,"t":229.3,"b":226},{"x":2693,"t":229.5,"b":225.8}]
},
"resolve":{"axis":{"x":"independent","y":"independent"}},
"layer":[
{"data":{"name":"we"},"mark":{"type":"area","color":"#000000"},
 "encoding":{
  "x":{"field":"x","type":"quantitative","scale":{"domain":[550,2895],"nice":false,"zero":false},
   "axis":{"orient":"bottom","values":[600,700,800,900,1000,1100,1200,1300,1400,1500,1600,1700,1800,1900,2000,2100,2200,2300,2400,2500,2600,2700,2800],"format":"d","tickSize":{"condition":{"test":"datum.value % 500 === 0","value":-11},"value":-5},"labelExpr":"datum.value % 500 === 0 ? datum.label : ''","labelPadding":18,"title":"WAVENUMBER [cm⁻¹]","titleFontSize":10,"titlePadding":-3}},
  "y":{"field":"hi","type":"quantitative","scale":{"domain":[180,337.5],"nice":false,"zero":false},
   "axis":{"orient":"left","values":[180,185,190,195,200,205,210,215,220,225,230,235,240,245,250,255,260,265,270,275,280,285,290,295,300,305,310,315,320,325,330,335],"format":"d","tickSize":{"condition":{"test":"datum.value % 20 === 0","value":-24},"value":-12},"labelExpr":"datum.value % 20 === 0 ? datum.label : ''","labelPadding":28,"title":"BRIGHTNESS TEMPERATURE [K]","titleFontSize":9,"titlePadding":6}},
  "y2":{"field":"lo"}}},
{"data":{"name":"ws"},"mark":{"type":"rule","color":"#000000","strokeWidth":1.2},
 "encoding":{
  "x":{"field":"x","type":"quantitative","scale":{"domain":[550,2895],"nice":false,"zero":false},
   "axis":{"orient":"top","values":[600,700,800,900,1000,1100,1200,1300,1400,1500,1600,1700,1800,1900,2000,2100,2200,2300,2400,2500,2600,2700,2800],"tickSize":{"condition":{"test":"datum.value % 500 === 0","value":-10},"value":-5},"labels":false,"title":null}},
  "y":{"field":"t","type":"quantitative","scale":{"domain":[180,337.5],"nice":false,"zero":false},
   "axis":{"orient":"right","values":[185,190,195,200,205,210,215,220,225,230,235,240,245,250,255,260,265,270,275,280,285,290,295,300,305,310,315,320,325,330,335],"tickSize":{"condition":{"test":"datum.value % 20 === 0","value":-21},"value":-10},"labels":false,"title":null}},
  "y2":{"field":"b"}}},
{"data":{"name":"we"},"mark":{"type":"line","strokeWidth":1},
 "encoding":{
  "x":{"field":"x","type":"quantitative","scale":{"domain":[550,2895],"nice":false,"zero":false},"axis":null},
  "y":{"field":"hi","type":"quantitative","scale":{"domain":[180,337.5],"nice":false,"zero":false},"axis":null},
  "color":{"datum":"WARM SURFACE PROFILE","type":"nominal","scale":{"domain":["WARM SURFACE PROFILE","COLD PROFILE + CIRRUS"],"range":["#000000","#ff0000"]},
   "legend":{"orient":"none","legendX":332,"legendY":19.5,"title":null,"symbolType":"M-4.8,0H4.8","symbolSize":100,"symbolStrokeWidth":1.6,"labelFont":"Liberation Sans","labelFontSize":13,"labelOffset":31,"labelLimit":400,"rowPadding":7,"padding":0,
    "encode":{"labels":{"update":{"fill":{"signal":"datum.value === 'COLD PROFILE + CIRRUS' ? '#ff0000' : '#000000'"}}}}}}}},
{"data":{"name":"ce"},"mark":{"type":"area","color":"#ff0000"},
 "encoding":{
  "x":{"field":"x","type":"quantitative","scale":{"domain":[550,2895],"nice":false,"zero":false},"axis":null},
  "y":{"field":"hi","type":"quantitative","scale":{"domain":[180,337.5],"nice":false,"zero":false},"axis":null},
  "y2":{"field":"lo"}}},
{"data":{"name":"cs"},"mark":{"type":"rule","color":"#ff0000","strokeWidth":1.5},
 "encoding":{
  "x":{"field":"x","type":"quantitative","scale":{"domain":[550,2895],"nice":false,"zero":false},"axis":null},
  "y":{"field":"t","type":"quantitative","scale":{"domain":[180,337.5],"nice":false,"zero":false},"axis":null},
  "y2":{"field":"b"}}},
{"data":{"name":"ce"},"mark":{"type":"line","strokeWidth":1},
 "encoding":{
  "x":{"field":"x","type":"quantitative","scale":{"domain":[550,2895],"nice":false,"zero":false},"axis":null},
  "y":{"field":"hi","type":"quantitative","scale":{"domain":[180,337.5],"nice":false,"zero":false},"axis":null},
  "color":{"datum":"COLD PROFILE + CIRRUS","type":"nominal"}}}
]
}
